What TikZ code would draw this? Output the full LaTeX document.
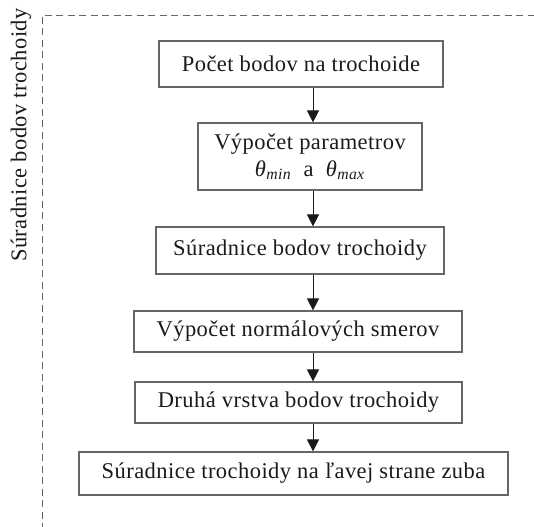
\documentclass[tikz,border=0pt]{standalone}
\usepackage{fontspec}
\setmainfont[LetterSpace=2]{Liberation Serif}
\usetikzlibrary{arrows.meta}
\definecolor{ink}{HTML}{1A1A1A}
\definecolor{frame}{HTML}{666666}
\newcommand{\thsub}[1]{\textit{θ}\textsubscript{\textit{#1}}}
\begin{document}
\begin{tikzpicture}[x=1pt,y=-1pt,
  stepbox/.style={draw=frame,line width=1.2pt,text=ink,inner sep=0pt,align=center,
    font=\fontsize{22.5}{27}\selectfont},
  arr/.style={draw=ink,line width=1pt,-{Triangle[length=12pt,width=12pt]}},
  outline/.style={draw=frame,line width=0.9pt,dash pattern=on 7pt off 4.5pt}]
\useasboundingbox (0,0) rectangle (534,526);

% dashed group outline (left and top sides)
\coordinate (fb) at (42,530);
\coordinate (fc) at (42,15);
\coordinate (fr) at (538,15);
\draw[outline] (fb) -- (fc) -- (fr);

% group label
\node[rotate=90,text=ink,inner sep=0pt,font=\fontsize{22.5}{27}\selectfont]
  (lbl) at (21,135) {Súradnice bodov trochoidy};

% process steps
\node[stepbox,minimum width=284pt,minimum height=46pt] (b1) at (301,64)
  {Počet bodov na trochoide};
\node[stepbox,minimum width=224pt,minimum height=67pt] (b2) at (310,156.5)
  {Výpočet parametrov\\ \thsub{min}~~a~~\thsub{max}};
\node[stepbox,minimum width=288pt,minimum height=47pt] (b3) at (300,250.5)
  {Súradnice bodov trochoidy};
\node[stepbox,minimum width=328pt,minimum height=41pt] (b4) at (298,331.5)
  {Výpočet normálových smerov};
\node[stepbox,minimum width=327pt,minimum height=41pt] (b5) at (298.5,402.5)
  {Druhá vrstva bodov trochoidy};
\node[stepbox,minimum width=429pt,minimum height=43pt] (b6) at (293.5,473.5)
  {Súradnice trochoidy na ľavej strane zuba};

% flow arrows
\coordinate (ax) at (313,0);
\draw[arr] (b1.south -| ax) -- (b2.north -| ax);
\draw[arr] (b2.south -| ax) -- (b3.north -| ax);
\draw[arr] (b3.south -| ax) -- (b4.north -| ax);
\draw[arr] (b4.south -| ax) -- (b5.north -| ax);
\draw[arr] (b5.south -| ax) -- (b6.north -| ax);
\end{tikzpicture}
\end{document}
